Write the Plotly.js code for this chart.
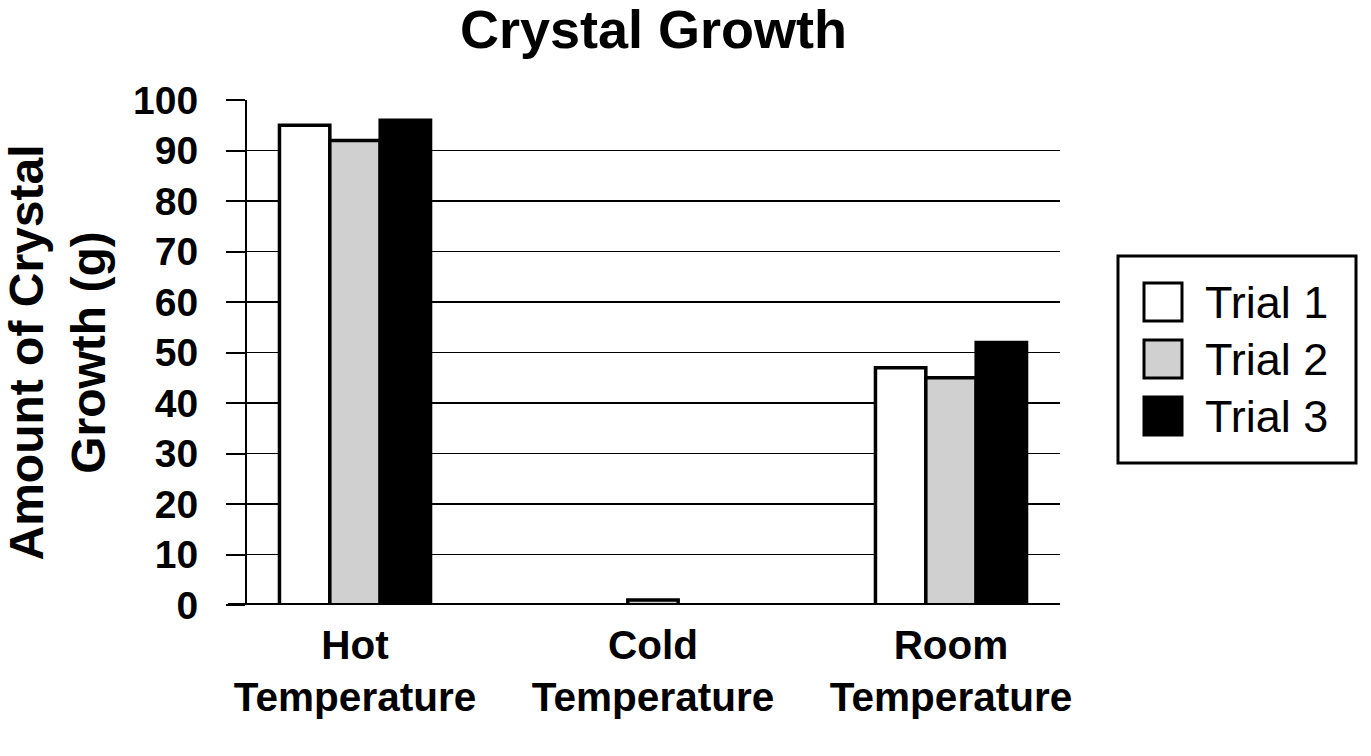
<!DOCTYPE html>
<html>
<head>
<meta charset="utf-8">
<script src="https://cdn.plot.ly/plotly-3.0.1.min.js"></script>
<style>
  html, body { margin: 0; padding: 0; background: #fff; }
  #chart { width: 1371px; height: 756px; }
</style>
</head>
<body>
<div id="chart"></div>
<script>
// ---- data ----
const categories = ['Hot<br>Temperature', 'Cold<br>Temperature', 'Room<br>Temperature'];
const seriesNames = ['Trial 1', 'Trial 2', 'Trial 3'];
const trial1 = [95, 0, 47];
const trial2 = [92, 1, 45];
const trial3 = [96, 0, 52];
const yTickVals = [0, 10, 20, 30, 40, 50, 60, 70, 80, 90, 100];
const chartTitle = 'Crystal Growth';
const yTitle = 'Amount of Crystal<br>Growth (g)';

// ---- styles ----
const FONT = 'Liberation Sans, Arial, Helvetica, sans-serif';
const fills = ['#ffffff', '#d0d0d0', '#000000'];
const seriesValues = [trial1, trial2, trial3];
const catIdx = categories.map((_, i) => i);

const traces = seriesValues.map((vals, i) => ({
  type: 'bar',
  name: seriesNames[i],
  x: catIdx,
  y: vals,
  marker: { color: fills[i], line: { color: '#000', width: 3.5 } },
  showlegend: false,
  hoverinfo: 'skip'
}));

// Custom legend (large square swatches), built from the series names
const L = 247, R = 1060, T = 100, B = 605;
const px2x = p => (p - L) / (R - L);
const py2y = p => (B - p) / (B - T);
const shapes = [];
const annotations = [];
shapes.push({
  type: 'rect', xref: 'paper', yref: 'paper',
  x0: px2x(1118), x1: px2x(1356), y0: py2y(463), y1: py2y(256),
  line: { color: '#000', width: 3 }, fillcolor: 'rgba(0,0,0,0)'
});
seriesNames.forEach((nm, i) => {
  const cy = 302 + i * 57;
  shapes.push({
    type: 'rect', xref: 'paper', yref: 'paper',
    x0: px2x(1144), x1: px2x(1182), y0: py2y(cy + 19), y1: py2y(cy - 19),
    line: { color: '#000', width: 3 }, fillcolor: fills[i]
  });
  annotations.push({
    xref: 'paper', yref: 'paper', x: px2x(1203), y: py2y(cy),
    xanchor: 'left', yanchor: 'middle', showarrow: false,
    text: nm, font: { family: FONT, size: 45, color: '#000' }
  });
});
shapes.push({
  type: 'line', xref: 'paper', yref: 'y',
  x0: px2x(228), x1: 1, y0: 0, y1: 0,
  line: { color: '#000', width: 4 }
});

const layout = {
  width: 1371, height: 756,
  paper_bgcolor: '#fff', plot_bgcolor: '#fff',
  margin: { l: L, r: 1371 - R, t: T, b: 756 - B, pad: 0 },
  font: { family: FONT, color: '#000' },
  title: {
    text: '<b>' + chartTitle + '</b>',
    x: 0.5, xref: 'paper', xanchor: 'center',
    y: 1 - 29 / 756, yref: 'container', yanchor: 'middle',
    font: { family: FONT, size: 54, color: '#000' }
  },
  barmode: 'group',
  bargap: 0.493,
  bargroupgap: 0,
  xaxis: {
    type: 'linear',
    range: [(L - 355) / 298, (R - 355) / 298],
    tickmode: 'array',
    tickvals: catIdx,
    ticktext: categories.map(c => '<b>' + c + '</b>'),
    ticks: '',
    showgrid: false,
    zeroline: false,
    showline: false,
    tickfont: { family: FONT, size: 40.5, color: '#000' },
    ticklabelstandoff: 12,
    fixedrange: true
  },
  yaxis: {
    range: [0, 100],
    tickmode: 'array',
    tickvals: yTickVals,
    ticktext: yTickVals.map(v => '<b>' + v + '</b>'),
    ticks: 'outside',
    ticklen: 19,
    tickwidth: 2,
    tickcolor: '#000',
    showline: true,
    linecolor: '#000',
    linewidth: 2,
    showgrid: true,
    gridcolor: '#000',
    gridwidth: 1.6,
    zeroline: false,
    tickfont: { family: FONT, size: 39, color: '#000' },
    ticklabelstandoff: 20,
    title: {
      text: '<b>' + yTitle + '</b>',
      font: { family: FONT, size: 48, color: '#000' },
      standoff: 16
    },
    fixedrange: true
  },
  shapes: shapes,
  annotations: annotations,
  showlegend: false
};

Plotly.newPlot('chart', traces, layout, { displayModeBar: false, staticPlot: true });
</script>
</body>
</html>
